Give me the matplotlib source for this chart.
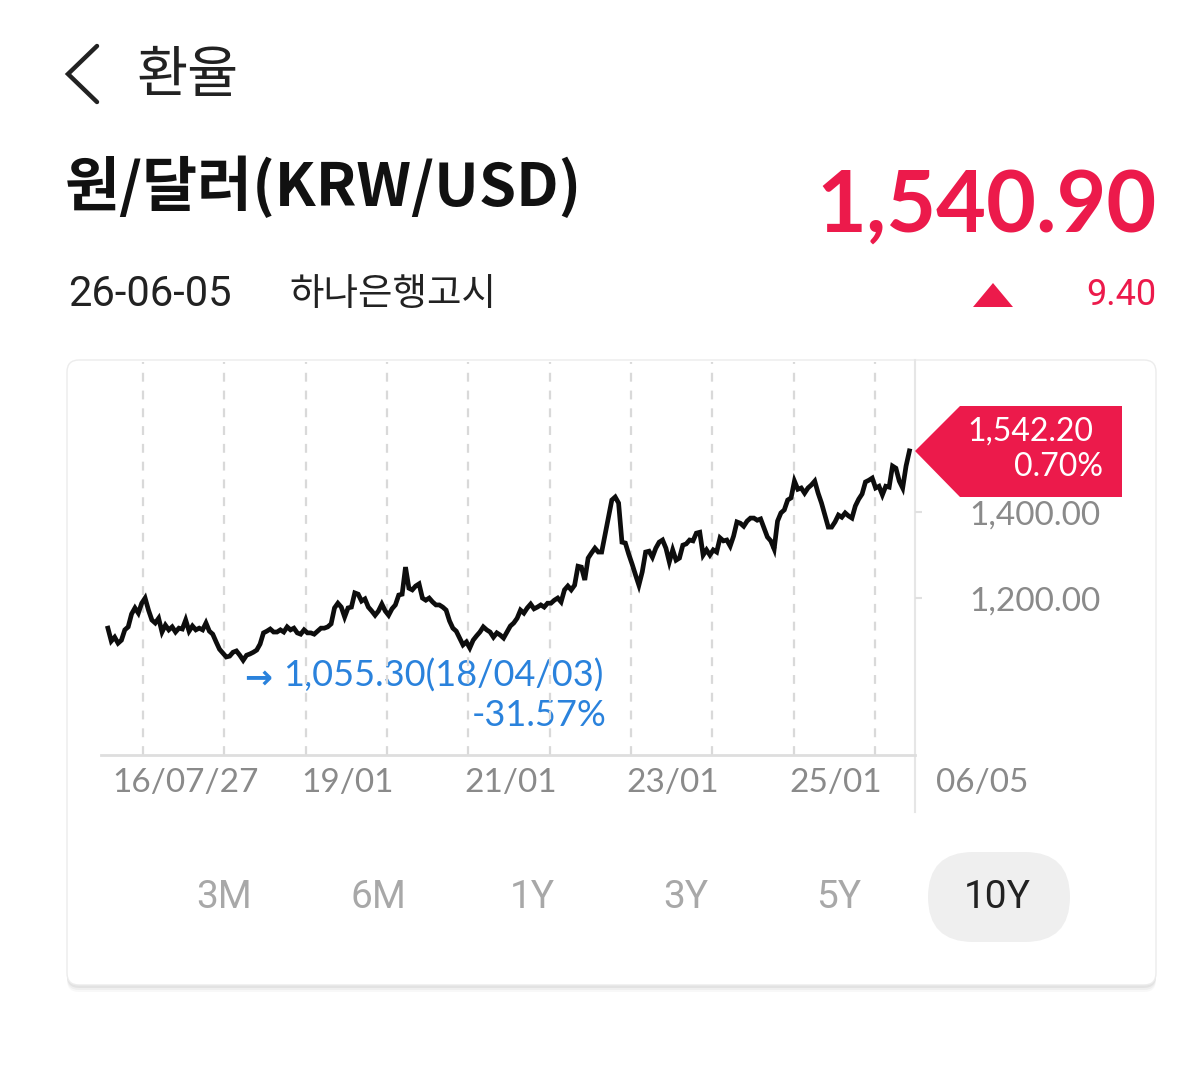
import matplotlib
matplotlib.use("Agg")
import matplotlib.pyplot as plt
import matplotlib.dates as mdates
from matplotlib.patches import FancyBboxPatch, Polygon
import pandas as pd

# 원/달러 10Y 데이터 (반월 간격, 그림에서 읽은 값)
start_date = "2016-07-27"
end_date = "2026-06-05"
krw_usd = [
    1130, 1100, 1109, 1095, 1102, 1126, 1133, 1163, 1177, 1165,
    1188, 1200, 1172, 1149, 1142, 1153, 1121, 1137, 1126, 1133,
    1121, 1130, 1128, 1149, 1123, 1135, 1126, 1130, 1126, 1142,
    1123, 1116, 1098, 1081, 1072, 1063, 1065, 1074, 1077, 1067,
    1055.3, 1067, 1070, 1074, 1079, 1093, 1119, 1123, 1128, 1121,
    1121, 1126, 1121, 1133, 1126, 1130, 1119, 1116, 1126, 1119,
    1119, 1116, 1123, 1130, 1130, 1133, 1140, 1177, 1188, 1179,
    1156, 1177, 1179, 1212, 1209, 1193, 1198, 1179, 1170, 1160,
    1170, 1186, 1170, 1160, 1175, 1184, 1207, 1209, 1272, 1223,
    1219, 1228, 1233, 1200, 1195, 1200, 1191, 1184, 1184, 1179,
    1172, 1147, 1130, 1123, 1107, 1091, 1098, 1084, 1102, 1112,
    1121, 1133, 1126, 1121, 1109, 1119, 1114, 1107, 1121,
    1135, 1142, 1153, 1172, 1165, 1177, 1186, 1175, 1179, 1184,
    1179, 1188, 1188, 1195, 1200, 1191, 1219, 1228, 1219, 1230,
    1274, 1272, 1242, 1293, 1305, 1316, 1307, 1307, 1347, 1388,
    1428, 1435, 1421, 1330, 1328, 1302, 1279, 1254, 1230, 1261,
    1307, 1309, 1295, 1316, 1330, 1335, 1316, 1284, 1312, 1288,
    1293, 1323, 1326, 1335, 1333, 1351, 1353, 1300, 1312,
    1300, 1312, 1307, 1340, 1333, 1335, 1321, 1344, 1377, 1374,
    1367, 1379, 1386, 1386, 1381, 1384, 1363, 1342, 1333, 1314,
    1379, 1398, 1405, 1428, 1433, 1472, 1453, 1456, 1444, 1456,
    1463, 1472, 1444, 1421, 1393, 1365, 1365, 1377, 1393, 1388,
    1398, 1391, 1386, 1414, 1430, 1442, 1470, 1474, 1479, 1456,
    1460, 1440, 1460, 1458, 1507, 1502, 1472, 1456, 1507, 1542.2,
]
ytick_values = [1200, 1400]
xlabel_dates = ["2016-07-27", "2019-01-01", "2021-01-01", "2023-01-01", "2025-01-01"]
xlabel_texts = ["16/07/27", "19/01", "21/01", "23/01", "25/01"]
end_label = "06/05"
periods = ["3M", "6M", "1Y", "3Y", "5Y", "10Y"]
low_value = 1055.30
low_label = "18/04/03"
last_value = 1542.20
last_pct = 0.70
price = 1540.90
price_change = 9.40

RED = "#ec1a4b"
BLUE = "#2a82dc"
GRAY = "#8a8a8a"
KR = ["Noto Sans CJK KR", "DejaVu Sans"]

plt.rcParams["font.family"] = ["Lato", "Noto Sans CJK KR", "DejaVu Sans"]

W, H = 1200, 1072
fig = plt.figure(figsize=(W / 100, H / 100), dpi=100, facecolor="white")

# 배경 레이어 (픽셀 좌표)
bg = fig.add_axes([0, 0, 1, 1])
bg.set_xlim(0, W)
bg.set_ylim(H, 0)
bg.axis("off")

# 헤더
bg.plot([97, 68, 97], [46, 74, 102], color="#222222", lw=3.2,
        solid_capstyle="round", solid_joinstyle="miter")
bg.text(136, 76, "환율", family=KR, fontsize=40, color="#222222", va="center")
bg.text(65, 188, "원/달러(KRW/USD)", family=KR, fontsize=43, weight="bold",
        color="#111111", va="center")
bg.text(1157, 207, f"{price:,.2f}", fontsize=62, weight="bold", color=RED,
        ha="right", va="center")
bg.text(68, 295, "26-06-05", family=["Roboto"], fontsize=30, color="#222222", va="center")
bg.text(289, 295, "하나은행고시", family=KR, fontsize=27, color="#222222", va="center")
bg.add_patch(Polygon([(973, 307), (1013, 307), (993, 283)], closed=True,
                     facecolor=RED, edgecolor="none"))
bg.text(1156, 295, f"{price_change:.2f}", family=["Roboto"], fontsize=26, color=RED,
        ha="right", va="center")

# 카드
for off, a in [(7, 0.10), (5, 0.15), (3, 0.25)]:
    bg.add_patch(FancyBboxPatch((67, 360 + off), 1089, 625, boxstyle="round,pad=0,rounding_size=12",
                                facecolor="#bfbfbf", edgecolor="none", alpha=a))
bg.add_patch(FancyBboxPatch((67, 360), 1089, 625, boxstyle="round,pad=0,rounding_size=12",
                            facecolor="white", edgecolor="#ececec", lw=1))
bg.plot([915, 915], [360, 812], color="#e6e6e6", lw=1.5)

# 기간 버튼
btn_x = [224, 378, 532, 686, 839, 997]
bg.add_patch(FancyBboxPatch((928, 852), 142, 90, boxstyle="round,pad=0,rounding_size=45",
                            facecolor="#efefef", edgecolor="none"))
for x, p in zip(btn_x, periods):
    sel = p == "10Y"
    bg.text(x, 897, p, family=["Roboto"], fontsize=28, color="#222222" if sel else "#a8a8a8",
            ha="center", va="center")

# 차트
dates = pd.date_range(start_date, end_date, periods=len(krw_usd))
ax = fig.add_axes([101 / W, (H - 755) / H, (915 - 101) / W, (755 - 362) / H])
ax.patch.set_alpha(0)
ax.plot(dates, krw_usd, color="#0d0d0d", lw=3.4, solid_joinstyle="miter")
ax.set_xlim(pd.Timestamp("2016-06-26"), pd.Timestamp("2026-06-30"))
ax.set_ylim(835, 1749)
ax.xaxis.set_major_locator(mdates.YearLocator())
ax.grid(axis="x", color="#d9d9d9", ls=(0, (4, 4)), lw=1.6)
ax.tick_params(axis="x", length=0, labelbottom=False)
ax.yaxis.tick_right()
ax.set_yticks(ytick_values)
ax.set_yticklabels([f"{v:,.2f}" for v in ytick_values])
ax.tick_params(axis="y", length=5, color="#e0e0e0", width=1.5, pad=34,
               labelsize=24, labelcolor=GRAY)
for s in ["top", "left", "right"]:
    ax.spines[s].set_visible(False)
ax.spines["bottom"].set_color("#dedede")
ax.spines["bottom"].set_linewidth(2)

for i, (d, t) in enumerate(zip(xlabel_dates, xlabel_texts)):
    ax.annotate(t, xy=(pd.Timestamp(d), 0), xycoords=("data", "axes fraction"),
                xytext=(3 if i == 0 else -3, -20), textcoords="offset points",
                ha="left", va="center", fontsize=24, color=GRAY)
ax.annotate(end_label, xy=(dates[-1], 0), xycoords=("data", "axes fraction"),
            xytext=(19, -20), textcoords="offset points", ha="left", va="center",
            fontsize=24, color=GRAY, annotation_clip=False)

# 최저점 표시
low_pct = (low_value - last_value) / last_value * 100
bg.text(258, 678, "→", family=["DejaVu Sans"], weight="bold", fontsize=24, color=BLUE,
        ha="center", va="center")
bg.text(283, 676, f"{low_value:,.2f}({low_label})", fontsize=26, color=BLUE, va="center")
bg.text(607, 715, f"{low_pct:.2f}%", fontsize=26, color=BLUE, ha="right", va="center")

# 현재가 태그
bg.add_patch(Polygon([(915, 451), (960, 406), (1122, 406), (1122, 497), (960, 497)],
                     closed=True, facecolor=RED, edgecolor="none", zorder=5))
bg.text(1093, 432, f"{last_value:,.2f}", fontsize=23, color="white", ha="right",
        va="center", zorder=6)
bg.text(1103, 467, f"{last_pct:.2f}%", fontsize=23, color="white", ha="right",
        va="center", zorder=6)

fig.savefig("out.png", dpi=100, facecolor="white")
